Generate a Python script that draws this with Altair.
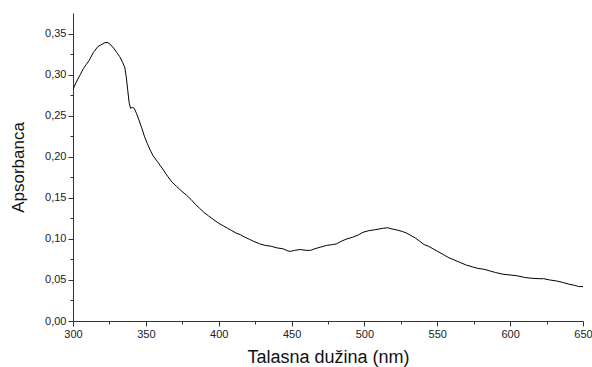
import altair as alt
import pandas as pd

wavelength = [300, 302, 305, 307, 309, 311, 314, 317, 320, 322, 324, 326, 328, 330, 332, 334,
              335.5, 336.5, 337.5, 338.5, 339.5, 341, 342, 343.5, 345, 347, 349, 351, 353, 355,
              358, 360, 362, 365, 368, 371, 374, 378, 381, 384, 387, 390, 393, 396, 400, 403,
              406, 409, 412, 415, 418, 421, 424, 428, 432, 436, 440, 444, 448, 450, 452, 456,
              460, 463, 466, 470, 474, 478, 481, 484, 488, 492, 496, 499, 503, 507, 510, 513,
              516, 519, 522, 526, 529, 532, 535, 538, 541, 544, 547, 550, 554, 558, 562, 566,
              570, 574, 578, 582, 586, 590, 595, 600, 605, 610, 615, 620, 623, 627, 632, 636,
              640, 644, 647, 650]
absorbance = [0.282, 0.290, 0.300, 0.307, 0.312, 0.317, 0.327, 0.334, 0.337, 0.339, 0.339, 0.336,
              0.332, 0.327, 0.322, 0.315, 0.309, 0.298, 0.282, 0.266, 0.259, 0.260, 0.259, 0.253,
              0.246, 0.236, 0.225, 0.216, 0.208, 0.201, 0.194, 0.189, 0.184, 0.176, 0.169, 0.164,
              0.159, 0.153, 0.148, 0.142, 0.137, 0.132, 0.128, 0.124, 0.119, 0.116, 0.113, 0.110,
              0.107, 0.105, 0.102, 0.0995, 0.097, 0.094, 0.092, 0.091, 0.089, 0.088, 0.085, 0.085,
              0.086, 0.087, 0.086, 0.086, 0.088, 0.090, 0.092, 0.093, 0.094, 0.097, 0.100, 0.102,
              0.105, 0.108, 0.110, 0.111, 0.112, 0.113, 0.1135, 0.112, 0.111, 0.109, 0.107, 0.104,
              0.101, 0.097, 0.093, 0.091, 0.088, 0.085, 0.081, 0.077, 0.074, 0.071, 0.068, 0.066,
              0.064, 0.063, 0.061, 0.059, 0.057, 0.056, 0.055, 0.053, 0.052, 0.0515, 0.0515,
              0.050, 0.0487, 0.047, 0.045, 0.0435, 0.042, 0.0418]

x_ticks = [300, 325, 350, 375, 400, 425, 450, 475, 500, 525, 550, 575, 600, 625, 650]
y_ticks = [0.0, 0.025, 0.05, 0.075, 0.1, 0.125, 0.15, 0.175, 0.2, 0.225, 0.25, 0.275, 0.3,
           0.325, 0.35]

df = pd.DataFrame({"wl": wavelength, "a": absorbance})

FONT = "Liberation Sans"
AX = "#333333"

chart = alt.Chart(df).mark_line(color="black", strokeWidth=1, clip=True).encode(
    x=alt.X("wl:Q",
            scale=alt.Scale(domain=[300, 650], nice=False, zero=False),
            axis=alt.Axis(
                title="Talasna dužina (nm)",
                values=x_ticks,
                labelExpr="datum.value % 50 == 0 ? format(datum.value, 'd') : ''",
                tickSize={"condition": {"test": "datum.value % 50 == 0", "value": 5}, "value": 3},
                grid=False, domainColor=AX, tickColor=AX, labelColor="#222222",
                labelFont=FONT, labelFontSize=11, labelPadding=2,
                titleFont=FONT, titleFontSize=18, titleFontWeight="normal",
                titleColor="#111111", titlePadding=9, labelFlush=False,
            )),
    y=alt.Y("a:Q",
            scale=alt.Scale(domain=[0, 0.375], nice=False),
            axis=alt.Axis(
                title="Apsorbanca",
                values=y_ticks,
                labelExpr="round(datum.value * 1000) % 50 == 0 ? replace(format(datum.value, '.2f'), '.', ',') : ''",
                tickSize={"condition": {"test": "round(datum.value * 1000) % 50 == 0", "value": 5},
                          "value": 3},
                grid=False, domainColor=AX, tickColor=AX, labelColor="#222222",
                labelFont=FONT, labelFontSize=11, labelPadding=2,
                titleFont=FONT, titleFontSize=17, titleFontWeight="normal",
                titleColor="#111111", titlePadding=17,
            )),
).properties(
    width=510, height=308,
    background="white",
    autosize=alt.AutoSizeParams(type="none"),
    padding={"left": 73, "top": 13, "right": 9, "bottom": 46},
).configure_view(stroke=None)

chart.save("out.html", embed_options={"renderer": "svg", "actions": False})
